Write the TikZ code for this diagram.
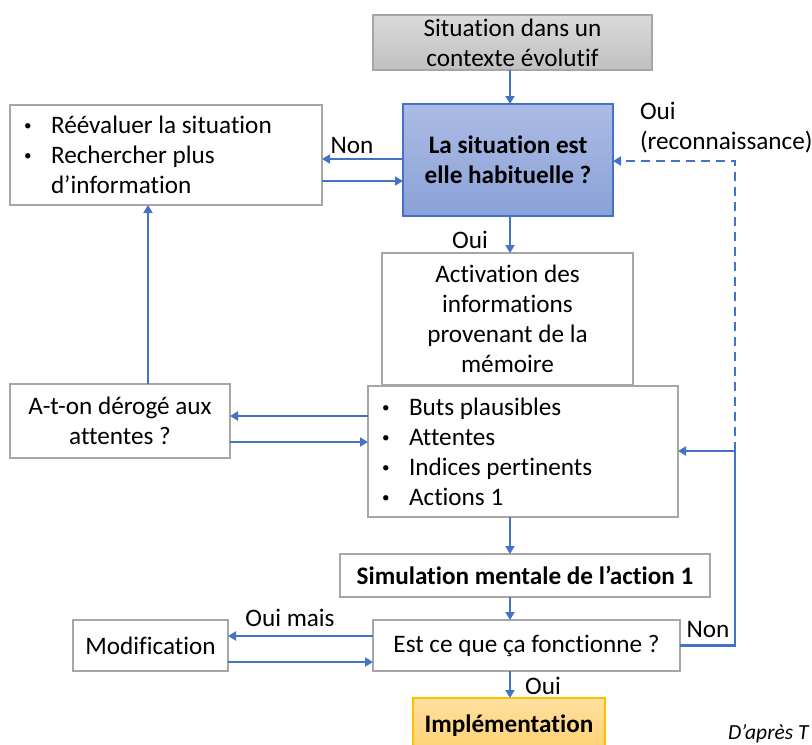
\documentclass[tikz,border=0pt]{standalone}
\usepackage{fontspec}
\setmainfont{Carlito}[Ligatures=NoCommon]
\usetikzlibrary{arrows.meta}
\definecolor{lblue}{HTML}{4472C4}
\definecolor{bordergray}{HTML}{A6A6A6}
\definecolor{bluetop}{RGB}{172,187,228}
\definecolor{bluebot}{RGB}{138,162,216}
\definecolor{graytop}{RGB}{218,218,218}
\definecolor{graybot}{RGB}{192,192,192}
\definecolor{orangetop}{RGB}{255,224,160}
\definecolor{orangebot}{RGB}{255,208,112}
\definecolor{orangeline}{HTML}{FFC000}
\newcommand{\fs}{\fontsize{25.2}{30}\selectfont}
\newcommand{\fsmall}{\fontsize{21.5}{25}\selectfont}
\newcommand{\bul}{\makebox[27pt][l]{\raisebox{3pt}{\scalebox{0.6}{\textbullet}}}}
\begin{document}
\begin{tikzpicture}[x=1pt,y=-1pt,
  every node/.style={font=\fs, inner sep=0pt, outer sep=0pt},
  box/.style={draw=bordergray, line width=1.3pt, fill=white, align=center},
  listbox/.style={draw=bordergray, line width=1.3pt, fill=white, inner xsep=14pt},
  arr/.style={draw=lblue, line width=2.9pt, -{Triangle[length=8pt,width=9pt]}},
  dasharr/.style={draw=lblue, line width=2.9pt, dash pattern=on 9pt off 6pt, -{Triangle[length=8pt,width=9pt]}},
  lbl/.style={font=\fs}
]
\useasboundingbox (0,0) rectangle (812,745);
\clip (0,0) rectangle (812,745);

% boxes
\node[box, top color=graytop, bottom color=graybot, minimum width=279pt, minimum height=55pt] (gray) at (512.5,42.5) {Situation dans un\\contexte évolutif};
\node[box, draw=lblue, top color=bluetop, bottom color=bluebot, minimum width=210pt, minimum height=112pt, font=\fs\bfseries] (blue) at (508,160) {La situation est\\elle habituelle ?};
\node[listbox, minimum width=312pt, minimum height=100pt] (left) at (166,155) {\parbox{284pt}{\raggedright\bul Réévaluer la situation\\\bul Rechercher plus\\\hspace*{27pt}d’information}};
\node[box, minimum width=251pt, minimum height=132pt] (act) at (507.5,319) {Activation des\\informations\\provenant de la\\mémoire};
\node[listbox, minimum width=310pt, minimum height=131pt] (bull) at (523,451.5) {\parbox{282pt}{\raggedright\bul Buts plausibles\\\bul Attentes\\\bul Indices pertinents\\\bul Actions 1}};
\node[box, minimum width=220pt, minimum height=74pt] (aton) at (120,421) {A-t-on dérogé aux\\attentes ?};
\node[box, minimum width=370pt, minimum height=43pt, font=\fs\bfseries] (sim) at (525,575.5) {Simulation mentale de l’action 1};
\node[box, minimum width=307pt, minimum height=51pt] (est) at (526.5,645.5) {Est ce que ça fonctionne ?};
\node[box, minimum width=155pt, minimum height=51pt] (modif) at (150.5,645.5) {Modification};
\node[box, draw=orangeline, top color=orangetop, bottom color=orangebot, minimum width=192pt, minimum height=56pt, font=\fs\bfseries] (impl) at (509,726) {Implémentation};

% labels
\node[lbl] (lnon) at (352,145) {Non};
\node[lbl, anchor=west, align=left] (lreco) at (640,127.5) {Oui\\(reconnaissance)};
\node[lbl] (loui1) at (470,240) {Oui};
\node[lbl] (louimais) at (290,618) {Oui mais};
\node[lbl] (lnon2) at (708,629) {Non};
\node[lbl] (loui2) at (543,686) {Oui};
\node[lbl, anchor=base west, font=\fsmall\itshape] (lsrc) at (728,739) {D’après T};

% reference coordinates
\coordinate (ax) at (510,0);
\coordinate (xR) at (735,0);
\coordinate (xL) at (148,0);
\coordinate (yNon) at (0,159);
\coordinate (yRet) at (0,181);
\coordinate (yDash) at (0,161);
\coordinate (yAt1) at (0,416);
\coordinate (yAt2) at (0,442);
\coordinate (ySide) at (0,451);
\coordinate (yM1) at (0,636);
\coordinate (yM2) at (0,662);

% connectors
\draw[arr] (gray.south -| ax) -- (blue.north -| ax);
\draw[arr] (blue.west |- yNon) -- (left.east |- yNon);
\draw[arr] (left.east |- yRet) -- (blue.west |- yRet);
\draw[arr] (blue.south -| ax) -- (act.north -| ax);
\draw[arr] (bull.west |- yAt1) -- (aton.east |- yAt1);
\draw[arr] (aton.east |- yAt2) -- (bull.west |- yAt2);
\draw[arr] (aton.north -| xL) -- (left.south -| xL);
\draw[arr] (bull.south -| ax) -- (sim.north -| ax);
\draw[arr] (sim.south -| ax) -- (est.north -| ax);
\draw[arr] (est.west |- yM1) -- (modif.east |- yM1);
\draw[arr] (modif.east |- yM2) -- (est.west |- yM2);
\draw[arr] (est.south -| ax) -- (impl.north -| ax);
\draw[arr] (est.east) -- (est.east -| xR) -- (xR |- ySide) -- (bull.east |- ySide);
\draw[dasharr] (xR |- ySide) -- (xR |- yDash) -- (blue.east |- yDash);
\end{tikzpicture}
\end{document}
